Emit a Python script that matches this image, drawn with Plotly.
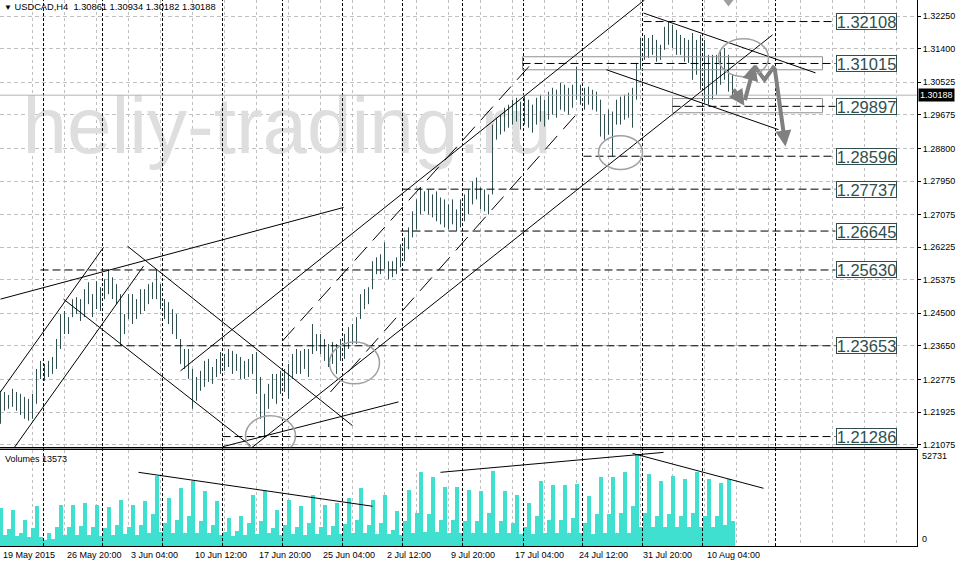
import plotly.graph_objects as go

W, H = 956, 567


def pxx(px):
    return px / W


def pxy(py):
    return 1 - py / H


# ---------------- data ----------------
symbol_title = "USDCAD,H4  1.30861 1.30934 1.30182 1.30188"
bid_price = 1.30188
last_volume = 13573
max_volume = 52731

# H4 bars (every second bar of the chart), high / low
bar_high = [
    1.2248, 1.2245, 1.2237, 1.2253, 1.2245, 1.2240, 1.2232, 1.2227, 1.2240, 1.2305,
    1.2326, 1.2318, 1.2326, 1.2336, 1.2383, 1.2448, 1.2456, 1.2440, 1.2487, 1.2492,
    1.2487, 1.2513, 1.2531, 1.2500, 1.2534, 1.2518, 1.2539, 1.2565, 1.2544, 1.2526,
    1.2500, 1.2448, 1.2500, 1.2500, 1.2487, 1.2513, 1.2513, 1.2526, 1.2531, 1.2565,
    1.2526, 1.2487, 1.2479, 1.2461, 1.2448, 1.2383, 1.2357, 1.2357, 1.2305, 1.2284,
    1.2300, 1.2326, 1.2331, 1.2310, 1.2331, 1.2349, 1.2344, 1.2357, 1.2352, 1.2344,
    1.2336, 1.2326, 1.2331, 1.2344, 1.2349, 1.2284, 1.2240, 1.2266, 1.2292, 1.2292,
    1.2300, 1.2305, 1.2318, 1.2344, 1.2357, 1.2352, 1.2357, 1.2357, 1.2422, 1.2396,
    1.2396, 1.2383, 1.2370, 1.2375, 1.2370, 1.2383, 1.2396, 1.2414, 1.2422, 1.2440,
    1.2500, 1.2513, 1.2518, 1.2586, 1.2596, 1.2604, 1.2635, 1.2586, 1.2586, 1.2596,
    1.2630, 1.2648, 1.2674, 1.2716, 1.2747, 1.2778, 1.2768, 1.2773, 1.2760, 1.2768,
    1.2752, 1.2747, 1.2734, 1.2747, 1.2721, 1.2747, 1.2760, 1.2773, 1.2794, 1.2804,
    1.2778, 1.2773, 1.2760, 1.2942, 1.2960, 1.2968, 1.2986, 1.2994, 1.3007, 1.3012,
    1.3002, 1.3015, 1.3007, 1.2994, 1.3012, 1.3020, 1.3007, 1.3028, 1.3038, 1.3033,
    1.3051, 1.3046, 1.3038, 1.3046, 1.3093, 1.3046, 1.3038, 1.3041, 1.3033, 1.3028,
    1.3007, 1.2968, 1.2981, 1.2976, 1.3007, 1.3015, 1.3020, 1.3025, 1.3038, 1.3103,
    1.3168, 1.3176, 1.3168, 1.3176, 1.3163, 1.3150, 1.3197, 1.3210, 1.3202, 1.3189,
    1.3176, 1.3168, 1.3163, 1.3181, 1.3163, 1.3176, 1.3163, 1.3124, 1.3124, 1.3124,
    1.3137, 1.3142, 1.3124, 1.3072,
]
bar_low = [
    1.2162, 1.2196, 1.2201, 1.2206, 1.2196, 1.2185, 1.2175, 1.2170, 1.2175, 1.2214,
    1.2279, 1.2274, 1.2284, 1.2292, 1.2305, 1.2357, 1.2396, 1.2396, 1.2440, 1.2448,
    1.2430, 1.2440, 1.2474, 1.2440, 1.2461, 1.2456, 1.2487, 1.2500, 1.2487, 1.2474,
    1.2365, 1.2396, 1.2435, 1.2422, 1.2435, 1.2448, 1.2456, 1.2474, 1.2487, 1.2487,
    1.2461, 1.2435, 1.2422, 1.2396, 1.2383, 1.2318, 1.2305, 1.2279, 1.2201, 1.2222,
    1.2248, 1.2258, 1.2271, 1.2266, 1.2284, 1.2292, 1.2300, 1.2310, 1.2292, 1.2300,
    1.2279, 1.2279, 1.2284, 1.2292, 1.2240, 1.2175, 1.2129, 1.2201, 1.2227, 1.2214,
    1.2240, 1.2245, 1.2227, 1.2279, 1.2292, 1.2292, 1.2305, 1.2284, 1.2344, 1.2352,
    1.2344, 1.2326, 1.2310, 1.2318, 1.2292, 1.2326, 1.2331, 1.2357, 1.2370, 1.2370,
    1.2435, 1.2461, 1.2474, 1.2513, 1.2552, 1.2552, 1.2565, 1.2539, 1.2544, 1.2552,
    1.2570, 1.2586, 1.2617, 1.2648, 1.2669, 1.2708, 1.2716, 1.2708, 1.2700, 1.2690,
    1.2682, 1.2674, 1.2669, 1.2682, 1.2664, 1.2674, 1.2690, 1.2708, 1.2734, 1.2747,
    1.2721, 1.2716, 1.2708, 1.2760, 1.2903, 1.2916, 1.2924, 1.2934, 1.2942, 1.2950,
    1.2929, 1.2942, 1.2934, 1.2921, 1.2942, 1.2950, 1.2937, 1.2955, 1.2968, 1.2960,
    1.2981, 1.2976, 1.2968, 1.2986, 1.3007, 1.2994, 1.2981, 1.2994, 1.2981, 1.2976,
    1.2911, 1.2903, 1.2916, 1.2859, 1.2942, 1.2942, 1.2955, 1.2960, 1.2934, 1.3007,
    1.3085, 1.3111, 1.3116, 1.3124, 1.3106, 1.3111, 1.3137, 1.3150, 1.3142, 1.3124,
    1.3124, 1.3106, 1.3103, 1.3059, 1.3072, 1.3033, 1.2999, 1.2994, 1.3007, 1.3020,
    1.3046, 1.3059, 1.3028, 1.3015,
]
volume = [
    21500, 6000, 9500, 20400, 5500, 7000, 14700, 5000, 10000, 22700, 5000, 3500,
    7400, 4000, 11000, 23200, 6000, 11000, 23200, 6000, 11500, 24400, 6000, 10500,
    23200, 5500, 10000, 22100, 6000, 12000, 26100, 6500, 11000, 23200, 6000, 12000,
    25500, 7000, 18000, 40300, 8000, 13000, 27200, 7000, 15000, 32900, 7500, 17000,
    36900, 7000, 14000, 31200, 7000, 12000, 25500, 6000, 8000, 15900, 5500, 8500,
    17000, 6000, 13000, 28900, 6500, 14000, 31200, 7000, 10000, 20400, 6000, 12000,
    26100, 6500, 11000, 22700, 6000, 13000, 28900, 6500, 11000, 23200, 6000, 11500,
    24400, 6500, 12500, 27200, 7000, 15000, 32900, 7000, 12000, 26100, 6500, 13000,
    28900, 6500, 9000, 19800, 6000, 14000, 31800, 7500, 19000, 42500, 8000, 18000,
    39700, 8000, 15000, 34000, 7500, 15000, 34000, 7500, 14000, 31800, 7000, 14000,
    31200, 7000, 19000, 43100, 7500, 14000, 31200, 7000, 13000, 28900, 6500, 11000,
    24400, 6500, 17000, 37400, 7000, 15000, 34600, 7000, 15000, 34600, 7000, 16000,
    35700, 7000, 13000, 28400, 6500, 18000, 39700, 7000, 18000, 39700, 7000, 19000,
    42500, 7500, 23000, 52731, 11000, 19000, 41400, 11000, 17000, 37400, 11000, 18000,
    40300, 11000, 17000, 38600, 11000, 19000, 42500, 11000, 17000, 38600, 11000, 17000,
    36000, 12000, 38600, 14000,
]
bars_per_step = 2
bar_x = [i * bars_per_step for i in range(len(bar_high))]

date_labels = ["19 May 2015", "26 May 20:00", "3 Jun 04:00", "10 Jun 12:00",
               "17 Jun 20:00", "25 Jun 04:00", "2 Jul 12:00", "9 Jul 20:00",
               "17 Jul 04:00", "24 Jul 12:00", "31 Jul 20:00", "10 Aug 04:00"]
date_label_bars = [0, 32, 64, 96, 128, 160, 192, 224, 256, 288, 320, 352]

price_ticks = [1.32250, 1.31400, 1.30525, 1.29675, 1.28800, 1.27950, 1.27075,
               1.26225, 1.25375, 1.24500, 1.23650, 1.22775, 1.21925, 1.21075]

levels = [1.32108, 1.31015, 1.29897, 1.28596, 1.27737, 1.26645, 1.25630, 1.23653, 1.21286]
level_from_bar = [321.5, 261, 336, 291.5, 201, 200, 20, 51, 111]
level_to_bar = 417.5

week_separator_bars = [21.5, 51, 81, 111, 141, 171, 201, 231, 261.5, 291, 321, 351, 387.5]

trend_lines = [  # bar0, price0, bar1, price1, dash
    (0, 1.2487, 171.5, 1.2726, "solid"),
    (0, 1.2245, 51.5, 1.2622, "solid"),
    (6.5, 1.2097, 71.5, 1.2573, "solid"),
    (63.5, 1.2625, 176, 1.2157, "solid"),
    (31.5, 1.2487, 125, 1.2105, "solid"),
    (111, 1.2102, 199, 1.2219, "solid"),
    (90, 1.2300, 322, 1.3267, "solid"),
    (125, 1.2097, 386, 1.3176, "solid"),
    (141, 1.2378, 265, 1.3098, "18px,9px"),
    (165, 1.2245, 290, 1.2981, "18px,9px"),
    (321.5, 1.3233, 407.5, 1.3077, "solid"),
    (303, 1.3085, 389, 1.2929, "solid"),
]
volume_lines = [
    (69, 42400, 186, 22900),
    (220, 42400, 331.5, 53860),
    (316, 53290, 381.5, 33230),
]
zones = [  # bar0, bar1, price_top, price_bottom
    (261, 411, 1.3119, 1.3085),
    (336, 411, 1.3010, 1.2973),
]
ellipses = [  # bar0, bar1, price_top, price_bottom
    (122.5, 147.5, 1.2183, 1.2079),
    (164.5, 189.5, 1.2375, 1.2266),
    (299, 321, 1.2913, 1.2825),
    (359, 384, 1.3166, 1.3067),
]
forecast_arrows = [  # tail bar, tail price, head bar, head price
    (366, 1.3038, 372, 1.2991),
    (372, 1.3002, 377, 1.3099),
    (387, 1.3093, 392.5, 1.2885),
]
forecast_path_bars = [377, 382, 387]
forecast_path_prices = [1.3095, 1.3059, 1.3095]

# ---------------- figure ----------------
BAR_COLOR = "#2F4F4F"
GRID = "#C0C0C0"
FONT = "Liberation Sans"

fig = go.Figure()

# watermark (behind the bars)
fig.add_trace(go.Scatter(
    x=[11], y=[1.2919], mode="text", text=["heliy-trading.ru"],
    textposition="middle right",
    textfont=dict(family=FONT, size=80, color="#DEDEDE"),
    hoverinfo="skip", xaxis="x", yaxis="y"))

# price bars
px_x, px_y = [], []
for xb, hi, lo in zip(bar_x, bar_high, bar_low):
    px_x += [xb, xb, None]
    px_y += [lo, hi, None]
fig.add_trace(go.Scatter(x=px_x, y=px_y, mode="lines",
                         line=dict(color=BAR_COLOR, width=1),
                         hoverinfo="skip", xaxis="x", yaxis="y"))

# forecast zig-zag
fig.add_trace(go.Scatter(x=forecast_path_bars, y=forecast_path_prices, mode="lines",
                         line=dict(color="#808080", width=4),
                         hoverinfo="skip", xaxis="x", yaxis="y"))
fig.add_trace(go.Scatter(x=[364], y=[1.3263], mode="markers",
                         marker=dict(symbol="triangle-down", size=10, color="#A0A0A0"),
                         hoverinfo="skip", xaxis="x", yaxis="y"))

# volume bars
fig.add_trace(go.Bar(x=bar_x, y=volume, width=bars_per_step,
                     marker=dict(color="#40E0D0", line=dict(width=0)),
                     hoverinfo="skip", xaxis="x2", yaxis="y2"))

shapes = []
for b in week_separator_bars:
    shapes.append(dict(type="line", xref="x", yref="paper", x0=b, x1=b,
                       y0=pxy(548), y1=1, line=dict(color="black", width=1, dash="3px,2px")))
shapes.append(dict(type="line", xref="paper", yref="y", x0=0, x1=pxx(917),
                   y0=bid_price, y1=bid_price, line=dict(color="#B4B4B4", width=1)))
for b0, b1, pt, pb in zones:
    shapes.append(dict(type="rect", xref="x", yref="y", x0=b0, x1=b1, y0=pb, y1=pt,
                       line=dict(color="#909090", width=1)))
for lv, b0 in zip(levels, level_from_bar):
    shapes.append(dict(type="line", xref="x", yref="y", x0=b0, x1=level_to_bar,
                       y0=lv, y1=lv, line=dict(color="black", width=1, dash="8px,4px")))
for b0, p0, b1, p1, dash in trend_lines:
    shapes.append(dict(type="line", xref="x", yref="y", x0=b0, x1=b1, y0=p0, y1=p1,
                       line=dict(color="black", width=1, dash=dash)))
for b0, b1, pt, pb in ellipses:
    shapes.append(dict(type="circle", xref="x", yref="y", x0=b0, x1=b1, y0=pb, y1=pt,
                       line=dict(color="#A0A0A0", width=1.5)))
for b0, v0, b1, v1 in volume_lines:
    shapes.append(dict(type="line", xref="x2", yref="y2", x0=b0, x1=b1, y0=v0, y1=v1,
                       line=dict(color="black", width=1)))
shapes.append(dict(type="line", xref="paper", yref="paper", x0=0, x1=pxx(917),
                   y0=pxy(449.5), y1=pxy(449.5), line=dict(color="black", width=1)))

annotations = []
annotations.append(dict(xref="paper", yref="paper", x=pxx(2), y=pxy(7.5), xanchor="left",
                        yanchor="middle", showarrow=False,
                        text="<span style='font-size:8px'>▼</span> " + symbol_title,
                        font=dict(family=FONT, size=9.3, color="black")))
annotations.append(dict(xref="paper", yref="paper", x=pxx(3), y=pxy(461), xanchor="left",
                        yanchor="middle", showarrow=False, text=f"Volumes {last_volume}",
                        font=dict(family=FONT, size=9, color="black")))
annotations.append(dict(xref="paper", yref="paper", x=pxx(920), y=pxy(458), xanchor="left",
                        yanchor="middle", showarrow=False, text=str(max_volume),
                        font=dict(family=FONT, size=9, color="black")))
annotations.append(dict(xref="paper", yref="paper", x=pxx(920), y=pxy(541), xanchor="left",
                        yanchor="middle", showarrow=False, text="0",
                        font=dict(family=FONT, size=9, color="black")))
for lab, b in zip(date_labels, date_label_bars):
    annotations.append(dict(xref="x2", yref="paper", x=b, y=pxy(556.5), xanchor="left",
                            yanchor="middle", showarrow=False, text=lab,
                            font=dict(family=FONT, size=9, color="black")))
for lv in levels:
    annotations.append(dict(xref="x", yref="y", x=level_to_bar, y=lv, xanchor="left",
                            yanchor="middle", showarrow=False, text=f"{lv:.5f}",
                            font=dict(family=FONT, size=16.5, color=BAR_COLOR),
                            bgcolor="white", bordercolor=BAR_COLOR, borderwidth=1,
                            borderpad=0, width=59, height=15))
annotations.append(dict(xref="paper", yref="y", x=pxx(918), y=bid_price, xanchor="left",
                        yanchor="middle", showarrow=False, text=f"{bid_price:.5f}",
                        font=dict(family=FONT, size=9, color="white"),
                        bgcolor="black", borderpad=1))
for tb, tp, hb, hp in forecast_arrows:
    annotations.append(dict(xref="x", yref="y", axref="x", ayref="y", x=hb, y=hp,
                            ax=tb, ay=tp, text="", showarrow=True, arrowhead=2,
                            arrowsize=0.8, arrowwidth=4, arrowcolor="#808080"))

x_common = dict(range=[-0.25, 458.25], domain=[0, pxx(917)], showticklabels=False,
                showgrid=True, gridcolor=GRID, griddash="3px,3px", gridwidth=1,
                tick0=0, dtick=16, zeroline=False, ticks="")

fig.update_layout(
    width=W, height=H, margin=dict(l=0, r=0, t=0, b=0),
    paper_bgcolor="white", plot_bgcolor="white", showlegend=False,
    bargap=0, shapes=shapes, annotations=annotations,
    xaxis=dict(**x_common, anchor="y", showline=True, linecolor="black", linewidth=1),
    xaxis2=dict(**x_common, anchor="y2", showline=True, mirror=True,
                linecolor="black", linewidth=1),
    yaxis=dict(domain=[pxy(449), 1], range=[1.21003, 1.3267], side="right",
               anchor="x", tickvals=price_ticks, ticktext=[f"{t:.5f}" for t in price_ticks],
               tickfont=dict(family=FONT, size=9, color="black"),
               ticks="outside", ticklen=3, tickcolor="black",
               showgrid=True, gridcolor=GRID, griddash="4px,3px", gridwidth=1,
               showline=True, linecolor="black", linewidth=1, zeroline=False),
    yaxis2=dict(domain=[pxy(548), pxy(452)], range=[0, 55000], side="right",
                anchor="x2", showticklabels=False, showgrid=False, zeroline=False,
                showline=True, linecolor="black", linewidth=1),
)

fig.write_html("out.html", config={"displayModeBar": False},
               post_script="document.body.style.margin='0';")
